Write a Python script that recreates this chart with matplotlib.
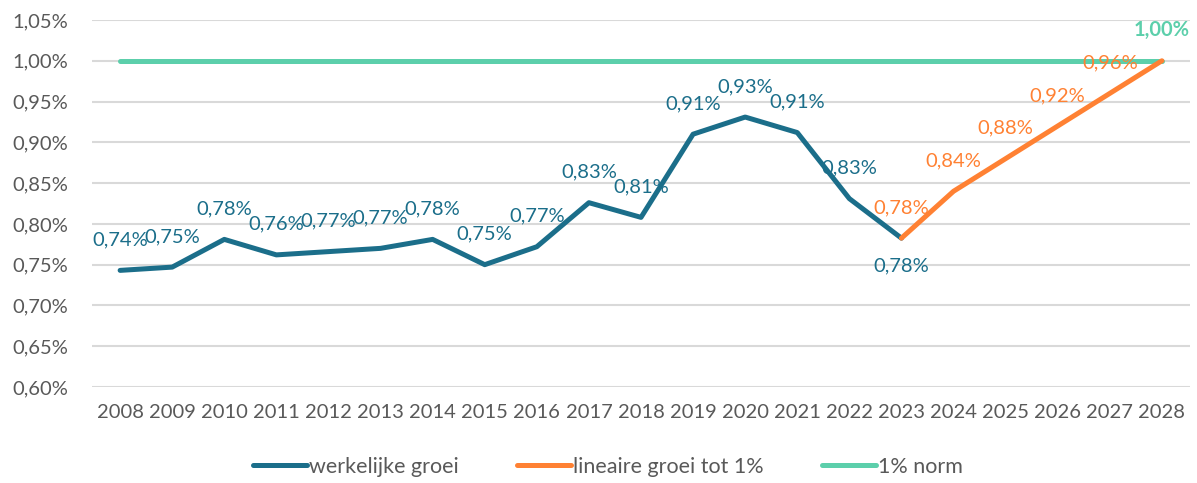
import matplotlib
matplotlib.use('Agg')
import matplotlib.pyplot as plt
from matplotlib.ticker import FuncFormatter

plt.rcParams['font.family'] = ['Lato', 'DejaVu Sans']

years = list(range(2008, 2029))
actual_years = list(range(2008, 2024))
actual = [0.743, 0.747, 0.781, 0.762, 0.766, 0.770, 0.781, 0.750, 0.772,
          0.826, 0.808, 0.910, 0.931, 0.912, 0.831, 0.7825]
linear_years = list(range(2023, 2029))
linear = [0.7825, 0.84, 0.88, 0.92, 0.96, 1.00]
norm = [1.00] * len(years)

BLUE, ORANGE, GREEN = '#1B6E8A', '#FF8133', '#5CCFAB'
GREY = '#595959'
FS = 14.5

fig = plt.figure(figsize=(11.97, 4.83), dpi=100)
ax = fig.add_axes([92 / 1197, 1 - 387 / 483, 1098 / 1197, 367 / 483])

def pct(v, pos=None):
    return f'{v:.2f}%'.replace('.', ',')

ax.plot(years, norm, color=GREEN, lw=3.6, solid_capstyle='round', label='1% norm', zorder=2)
ax.plot(actual_years, actual, color=BLUE, lw=3.6, solid_capstyle='round',
        solid_joinstyle='round', label='werkelijke groei', zorder=3)
ax.plot(linear_years, linear, color=ORANGE, lw=3.6, solid_capstyle='round',
        solid_joinstyle='round', label='lineaire groei tot 1%', zorder=4)

# data labels
for x, y in zip(actual_years, actual):
    dy = -20 if x == 2023 else 22
    ax.annotate(pct(y), (x, y), xytext=(0, dy), textcoords='offset points',
                ha='center', va='center', color=BLUE, fontsize=FS, zorder=5)
for x, y in zip(linear_years[:-1], linear[:-1]):
    ax.annotate(pct(y), (x, y), xytext=(0, 22), textcoords='offset points',
                ha='center', va='center', color=ORANGE, fontsize=FS, zorder=5)
ax.annotate(pct(norm[-1]), (years[-1], norm[-1]), xytext=(0, 22), textcoords='offset points',
            ha='center', va='center', color=GREEN, fontsize=FS, fontweight='bold', zorder=5)

ax.set_ylim(0.60, 1.05)
ax.set_yticks([0.60 + 0.05 * k for k in range(10)])
ax.yaxis.set_major_formatter(FuncFormatter(pct))
ax.set_xlim(years[0] - 0.54, years[-1] + 0.54)
ax.set_xticks(years)
ax.set_xticklabels([str(y) for y in years])
ax.tick_params(axis='both', length=0, labelsize=FS, colors=GREY)
ax.tick_params(axis='y', pad=17)
ax.tick_params(axis='x', pad=12)
ax.grid(axis='y', color='#D9D9D9', lw=1.5)
ax.set_axisbelow(True)
for s in ax.spines.values():
    s.set_visible(False)

h, l = ax.get_legend_handles_labels()
order = [1, 2, 0]
fig.legend([h[i] for i in order], [l[i] for i in order], loc='center',
           bbox_to_anchor=(0.508, 1 - 467 / 483), ncol=3, frameon=False,
           fontsize=15.5, handlelength=2.5, handletextpad=0.1, columnspacing=2.7,
           labelcolor=GREY)

plt.savefig('out.png', dpi=100)
